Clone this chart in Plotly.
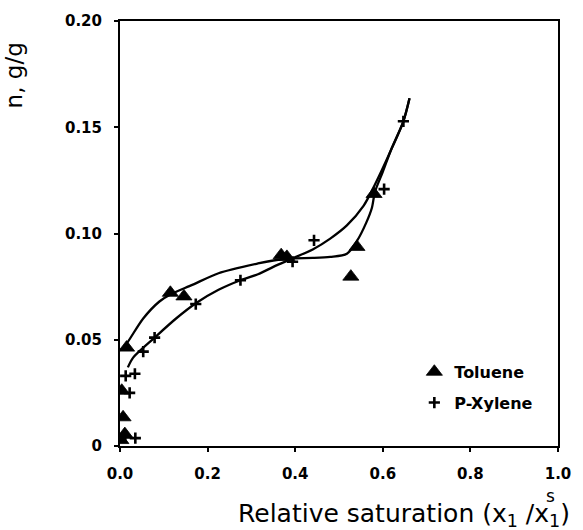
import plotly.graph_objects as go

# Measured adsorption data (relative saturation, uptake g/g)
toluene_x = [0.002, 0.011, 0.007, 0.004, 0.015, 0.115, 0.146, 0.368, 0.381, 0.527, 0.541, 0.580]
toluene_n = [0.0028, 0.0056, 0.0135, 0.026, 0.0463, 0.0721, 0.0704, 0.0898, 0.0890, 0.0797, 0.0937, 0.1186]

xylene_x = [0.012, 0.035, 0.022, 0.013, 0.034, 0.053, 0.079, 0.173, 0.275, 0.394, 0.443, 0.603, 0.647]
xylene_n = [0.0040, 0.0037, 0.025, 0.033, 0.034, 0.0444, 0.051, 0.0668, 0.078, 0.0867, 0.0968, 0.1209, 0.1528]

# Smoothed isotherm fits
toluene_fit_x = [0.0, 0.011, 0.053, 0.09, 0.115, 0.165, 0.225, 0.315, 0.35, 0.394, 0.44, 0.48,
                 0.518, 0.541, 0.562, 0.575, 0.582, 0.60, 0.62, 0.647, 0.661]
toluene_fit_n = [0.045, 0.047, 0.060, 0.068, 0.0713, 0.0758, 0.0813, 0.0859, 0.0873, 0.0883, 0.0885, 0.0890,
                 0.0905, 0.0965, 0.105, 0.112, 0.1195, 0.129, 0.140, 0.1528, 0.1636]

xylene_fit_x = [0.018, 0.030, 0.079, 0.128, 0.174, 0.225, 0.275, 0.315, 0.35, 0.394, 0.44, 0.48,
                0.518, 0.556, 0.581, 0.616, 0.647, 0.661]
xylene_fit_n = [0.037, 0.0416, 0.051, 0.060, 0.0673, 0.0735, 0.078, 0.0808, 0.0843, 0.0883, 0.0925, 0.0976,
                0.1038, 0.113, 0.1226, 0.138, 0.1528, 0.1636]

x_ticks = [0.0, 0.2, 0.4, 0.6, 0.8, 1.0]
x_tick_text = ["0.0", "0.2", "0.4", "0.6", "0.8", "1.0"]
y_ticks = [0.0, 0.05, 0.10, 0.15, 0.20]
y_tick_text = ["0", "0.05", "0.10", "0.15", "0.20"]

FONT = "DejaVu Sans, Arial, sans-serif"

fig = go.Figure()

fig.add_trace(go.Scatter(x=toluene_fit_x, y=toluene_fit_n, mode="lines",
                         line=dict(color="black", width=2.3, shape="spline", smoothing=0.8),
                         showlegend=False, hoverinfo="skip"))
fig.add_trace(go.Scatter(x=xylene_fit_x, y=xylene_fit_n, mode="lines",
                         line=dict(color="black", width=2.3, shape="spline", smoothing=0.8),
                         showlegend=False, hoverinfo="skip"))

fig.add_trace(go.Scatter(x=toluene_x, y=toluene_n, mode="markers", name="Toluene", legendgroup="tol",
                         marker=dict(symbol="triangle-up", size=14, color="black",
                                     line=dict(color="black", width=0.8))))
fig.add_trace(go.Scatter(x=xylene_x, y=xylene_n, mode="markers", name="P-Xylene", legendgroup="xyl",
                         marker=dict(symbol="cross-thin", size=8, color="black",
                                     line=dict(color="black", width=2.6))))

tick_font = dict(family=FONT, size=15, color="black", weight="bold")

fig.update_layout(
    width=583, height=530,
    margin=dict(l=120, r=19, t=17, b=84),
    paper_bgcolor="white", plot_bgcolor="white",
    showlegend=True,
    legend=dict(x=0.672, y=0.2145, xanchor="left", yanchor="top",
                font=dict(family=FONT, size=16, color="black", weight="bold"),
                bgcolor="rgba(0,0,0,0)", itemwidth=30, tracegroupgap=7, itemclick=False),
    xaxis=dict(range=[0, 1.0], tickvals=x_ticks, ticktext=x_tick_text, showgrid=False, zeroline=False,
               showline=True, linecolor="black", linewidth=2, mirror=True,
               ticks="outside", ticklen=4, tickwidth=1.5, tickcolor="black",
               tickfont=tick_font, ticklabelstandoff=9),
    yaxis=dict(range=[0, 0.20], tickvals=y_ticks, ticktext=y_tick_text, showgrid=False, zeroline=False,
               showline=True, linecolor="black", linewidth=2, mirror=True,
               ticks="outside", ticklen=4, tickwidth=1.5, tickcolor="black",
               tickfont=tick_font, ticklabelstandoff=9),
    annotations=[
        dict(text="Relative saturation (x<sub>1</sub> /x<sub>1</sub>)", xref="paper", yref="paper",
             x=1.032, y=-0.163, xanchor="right", yanchor="middle", showarrow=False,
             font=dict(family=FONT, size=25, color="black")),
        dict(text="s", xref="paper", yref="paper", x=0.982, y=-0.118, xanchor="center", yanchor="middle",
             showarrow=False, font=dict(family=FONT, size=17, color="black")),
        dict(text="n, g/g", xref="paper", yref="paper", x=-0.243, y=0.871, xanchor="center", yanchor="middle",
             textangle=-90, showarrow=False, font=dict(family=FONT, size=23, color="black")),
    ],
)

fig.write_html("out.html")
